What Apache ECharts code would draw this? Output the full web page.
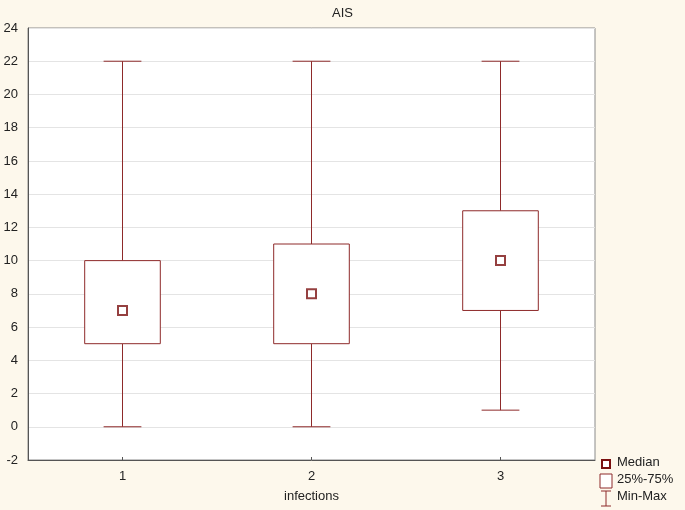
<!DOCTYPE html>
<html>
<head>
<meta charset="utf-8">
<script src="https://cdn.jsdelivr.net/npm/echarts@6/dist/echarts.min.js"></script>
<style>
  html, body { margin: 0; padding: 0; background: #fdf8ec; }
  #chart { width: 685px; height: 510px; }
</style>
</head>
<body>
<div id="chart"></div>
<script>
// data
const categories = ['1', '2', '3']
const mins = [0, 0, 1]
const q1s = [5, 5, 7]
const medians = [7, 8, 10]
const q3s = [10, 11, 13]
const maxs = [22, 22, 22]

const lineColor = '#8e2a2a'
const markColor = '#7a1010'
const font = 'Arial, "Liberation Sans", sans-serif'

const chart = echarts.init(document.getElementById('chart'))

// whiskers: min -> q1, q3 -> max, with caps
function renderWhisker(params, api) {
    const i = api.value(0)
    const lo = api.coord([i, api.value(1)])
    const b1 = api.coord([i, api.value(2)])
    const b2 = api.coord([i, api.value(3)])
    const hi = api.coord([i, api.value(4)])
    const half = api.size([1, 0])[0] * 0.1
    const style = { stroke: lineColor, lineWidth: 1 }
    return {
        type: 'group',
        children: [
            { type: 'line', shape: { x1: lo[0], y1: lo[1], x2: b1[0], y2: b1[1] }, style },
            { type: 'line', shape: { x1: b2[0], y1: b2[1], x2: hi[0], y2: hi[1] }, style },
            { type: 'line', shape: { x1: lo[0] - half, y1: lo[1], x2: lo[0] + half, y2: lo[1] }, style },
            { type: 'line', shape: { x1: hi[0] - half, y1: hi[1], x2: hi[0] + half, y2: hi[1] }, style }
        ]
    }
}

function renderBox(params, api) {
    const i = api.value(0)
    const top = api.coord([i, api.value(2)])
    const bot = api.coord([i, api.value(1)])
    const w = api.size([1, 0])[0] * 0.4
    return {
        type: 'rect',
        shape: { x: top[0] - w / 2, y: top[1], width: w, height: bot[1] - top[1] },
        style: { fill: '#fff', stroke: lineColor, lineWidth: 1 }
    }
}

const whiskerData = categories.map((c, i) => [i, mins[i], q1s[i], q3s[i], maxs[i]])
const boxData = categories.map((c, i) => [i, q1s[i], q3s[i]])
const medianData = categories.map((c, i) => [i, medians[i]])

const lx = 601
const ly = 464
const legendText = { fill: '#222', fontSize: 13, fontFamily: font }

chart.setOption({
    backgroundColor: '#fdf8ec',
    animation: false,
    title: {
        text: 'AIS',
        left: 'center',
        top: 2,
        textStyle: { fontSize: 13, fontWeight: 'normal', color: '#222', fontFamily: font }
    },
    grid: {
        left: 28, right: 90, top: 28, bottom: 50,
        show: true,
        backgroundColor: '#fff',
        borderColor: '#8a8a8a',
        borderWidth: 1
    },
    xAxis: {
        type: 'category',
        data: categories,
        name: 'infections',
        nameLocation: 'middle',
        nameGap: 30,
        nameTextStyle: { fontSize: 13, color: '#222', fontFamily: font },
        axisLine: { onZero: false, lineStyle: { color: '#555' } },
        axisTick: { show: true, alignWithLabel: true, inside: true, length: 3, lineStyle: { color: '#555' } },
        axisLabel: { fontSize: 13, color: '#222', fontFamily: font, margin: 10 },
        splitLine: { show: false }
    },
    yAxis: {
        type: 'value',
        min: -2,
        max: 24,
        interval: 2,
        axisLine: { show: true, lineStyle: { color: '#555' } },
        axisTick: { show: false },
        axisLabel: { fontSize: 13, color: '#222', fontFamily: font, margin: 10 },
        splitLine: { lineStyle: { color: '#e4e4e4' } }
    },
    series: [
        {
            name: 'Min-Max',
            type: 'custom',
            renderItem: renderWhisker,
            encode: { x: 0, y: [1, 2, 3, 4] },
            data: whiskerData
        },
        {
            name: '25%-75%',
            type: 'custom',
            renderItem: renderBox,
            encode: { x: 0, y: [1, 2] },
            data: boxData
        },
        {
            name: 'Median',
            type: 'scatter',
            symbol: 'rect',
            symbolSize: 9,
            itemStyle: { color: '#fff', borderColor: markColor, borderWidth: 2 },
            data: medianData
        }
    ],
    graphic: [
        { type: 'rect', shape: { x: lx + 1, y: ly - 4, width: 8, height: 8 },
          style: { fill: '#fff', stroke: markColor, lineWidth: 2 } },
        { type: 'text', x: lx + 16, y: ly - 8, style: Object.assign({ text: 'Median' }, legendText) },
        { type: 'rect', shape: { x: lx - 1, y: ly + 10, width: 12, height: 14 },
          style: { fill: '#fff', stroke: lineColor, lineWidth: 1 } },
        { type: 'text', x: lx + 16, y: ly + 9, style: Object.assign({ text: '25%-75%' }, legendText) },
        { type: 'line', shape: { x1: lx, y1: ly + 27, x2: lx + 10, y2: ly + 27 }, style: { stroke: lineColor } },
        { type: 'line', shape: { x1: lx + 5, y1: ly + 27, x2: lx + 5, y2: ly + 42 }, style: { stroke: lineColor } },
        { type: 'line', shape: { x1: lx, y1: ly + 42, x2: lx + 10, y2: ly + 42 }, style: { stroke: lineColor } },
        { type: 'text', x: lx + 16, y: ly + 26, style: Object.assign({ text: 'Min-Max' }, legendText) }
    ]
})
</script>
</body>
</html>
